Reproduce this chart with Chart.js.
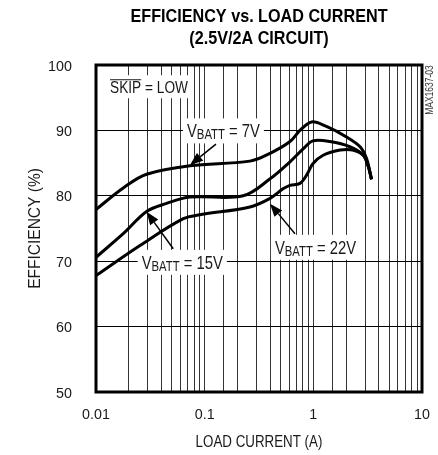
<!DOCTYPE html>
<html>
<head>
<meta charset="utf-8">
<script src="https://cdn.jsdelivr.net/npm/chart.js@4.4.1/dist/chart.umd.min.js"></script>
<style>
  html, body { margin: 0; padding: 0; background: #fff; }
  #wrap { width: 438px; height: 455px; }
</style>
</head>
<body>
<div id="wrap"><canvas id="chart" width="438" height="455"></canvas></div>
<script>
const FONT = '"Liberation Sans", Arial, Helvetica, sans-serif';

// load current (A) / efficiency (%)
const current7V = [0.01, 0.0178, 0.0292, 0.0733, 0.261, 0.40, 0.61, 0.753, 0.964, 1.32, 2.02, 2.69, 3.09, 3.43];
const eff7V     = [77.9, 81.2, 83.3, 84.6, 85.3, 86.5, 88.3, 90.0, 91.3, 90.6, 89.0, 87.5, 85.7, 82.5];

const current15V = [0.01, 0.0178, 0.0292, 0.044, 0.0733, 0.226, 0.40, 0.61, 0.81, 0.99, 1.42, 2.17, 2.88, 3.2, 3.43];
const eff15V     = [70.6, 74.2, 77.6, 78.8, 79.8, 80.0, 82.6, 85.2, 87.2, 88.4, 88.3, 87.5, 86.2, 84.5, 82.5];

const current22V = [0.01, 0.0254, 0.0636, 0.0906, 0.261, 0.40, 0.53, 0.61, 0.753, 0.87, 0.99, 1.23, 1.77, 2.3, 2.88, 3.2, 3.43];
const eff22V     = [67.8, 72.4, 76.5, 77.1, 78.3, 79.6, 81.1, 81.6, 81.9, 83.2, 84.9, 86.2, 87.0, 87.0, 86.2, 84.5, 82.6];

const xTickLabels = ['0.01', '0.1', '1', '10'];
const yTicks = [50, 60, 70, 80, 90, 100];

const titleLines = ['EFFICIENCY vs. LOAD CURRENT', '(2.5V/2A CIRCUIT)'];
const xTitle = 'LOAD CURRENT (A)';
const yTitle = 'EFFICIENCY (%)';

// curve labels: V + subscript + rest, left x and centre y in data units
const curveLabels = [
  { main: 'V', sub: 'BATT', rest: ' = 7V',  x: 0.0687, y: 90.0 },
  { main: 'V', sub: 'BATT', rest: ' = 15V', x: 0.0263, y: 69.9 },
  { main: 'V', sub: 'BATT', rest: ' = 22V', x: 0.443,  y: 72.2 }
];
// arrows: tail -> head (data units)
const arrows = [
  { x0: 0.127,  y0: 87.9, x1: 0.0733, y1: 84.7 },
  { x0: 0.0514, y0: 71.9, x1: 0.0292, y1: 77.55 },
  { x0: 0.678,  y0: 74.2, x1: 0.399,  y1: 78.8 }
];
const skipLabel = { x: 0.01346, y: 96.6 };

function curve(xs, ys) {
  return {
    data: xs.map((x, i) => ({ x: x, y: ys[i] })),
    borderColor: '#000',
    borderWidth: 3,
    pointRadius: 0,
    tension: 0.35,
    fill: false
  };
}

// the reference uses a narrow Helvetica, so squeeze Liberation Sans sideways
function narrow(ctx, text, x, y, size, k, opts) {
  opts = opts || {};
  ctx.save();
  ctx.translate(x, y);
  if (opts.rotate) ctx.rotate(opts.rotate);
  ctx.scale(k, 1);
  ctx.font = (opts.bold ? 'bold ' : '') + size + 'px ' + FONT;
  ctx.textAlign = opts.align || 'left';
  ctx.textBaseline = 'alphabetic';
  ctx.fillStyle = opts.color || '#1a1a1a';
  ctx.fillText(text, 0, 0);
  ctx.restore();
}
function narrowWidth(ctx, text, size, k) {
  ctx.save();
  ctx.font = size + 'px ' + FONT;
  const w = ctx.measureText(text).width * k;
  ctx.restore();
  return w;
}

const annotate = {
  id: 'annotate',
  afterDatasetsDraw(chart) {
    const ctx = chart.ctx;
    const xs = chart.scales.x;
    const ys = chart.scales.y;
    const area = chart.chartArea;
    const midX = (area.left + area.right) / 2;

    // SKIP = LOW box
    let px = xs.getPixelForValue(skipLabel.x);
    let py = ys.getPixelForValue(skipLabel.y);
    const kS = 0.84;
    const skipW = narrowWidth(ctx, 'SKIP', 16.3, kS);
    const fullW = narrowWidth(ctx, 'SKIP = LOW', 16.3, kS);
    ctx.fillStyle = '#fff';
    ctx.fillRect(px - 4, py - 12, fullW + 8, 23);
    narrow(ctx, 'SKIP = LOW', px, py + 6, 16.3, kS);
    ctx.strokeStyle = '#1a1a1a';
    ctx.lineWidth = 1;
    ctx.beginPath();
    ctx.moveTo(px, py - 7.5);
    ctx.lineTo(px + skipW, py - 7.5);
    ctx.stroke();

    // V_BATT labels
    const kL = 0.78, big = 19, small = 14.5;
    curveLabels.forEach(l => {
      const x = xs.getPixelForValue(l.x);
      const y = ys.getPixelForValue(l.y);
      const w1 = narrowWidth(ctx, l.main, big, kL);
      const w2 = narrowWidth(ctx, l.sub, small, kL);
      const w3 = narrowWidth(ctx, l.rest, big, kL);
      ctx.fillStyle = '#fff';
      ctx.fillRect(x - 4, y - 12, w1 + w2 + w3 + 8, 25);
      narrow(ctx, l.main, x, y + 7, big, kL);
      narrow(ctx, l.sub, x + w1, y + 9, small, kL);
      narrow(ctx, l.rest, x + w1 + w2, y + 7, big, kL);
    });

    // arrows
    arrows.forEach(a => {
      const x0 = xs.getPixelForValue(a.x0), y0 = ys.getPixelForValue(a.y0);
      const x1 = xs.getPixelForValue(a.x1), y1 = ys.getPixelForValue(a.y1);
      const ang = Math.atan2(y1 - y0, x1 - x0);
      const hl = 13, hw = 5;
      const bx = x1 - hl * Math.cos(ang), by = y1 - hl * Math.sin(ang);
      ctx.strokeStyle = '#000';
      ctx.lineWidth = 1.5;
      ctx.beginPath();
      ctx.moveTo(x0, y0);
      ctx.lineTo(bx, by);
      ctx.stroke();
      ctx.fillStyle = '#000';
      ctx.beginPath();
      ctx.moveTo(x1, y1);
      ctx.lineTo(bx + hw * Math.sin(ang), by - hw * Math.cos(ang));
      ctx.lineTo(bx - hw * Math.sin(ang), by + hw * Math.cos(ang));
      ctx.closePath();
      ctx.fill();
    });

    // frame
    ctx.save();
    ctx.strokeStyle = '#000';
    ctx.lineWidth = 3;
    ctx.strokeRect(area.left, area.top, area.right - area.left, area.bottom - area.top);
    ctx.restore();

    // titles
    narrow(ctx, titleLines[0], midX, 21.7, 18.6, 0.87, { bold: true, align: 'center', color: '#000' });
    narrow(ctx, titleLines[1], midX, 44.3, 18.6, 0.87, { bold: true, align: 'center', color: '#000' });
    narrow(ctx, xTitle, midX, 447, 16.3, 0.82, { align: 'center' });
    narrow(ctx, yTitle, 40, (area.top + area.bottom) / 2, 16, 0.97, { align: 'center', rotate: -Math.PI / 2 });

    // tick labels
    yTicks.forEach(v => {
      narrow(ctx, String(v), area.left - 24, ys.getPixelForValue(v) + 5.5, 15.4, 0.93, { align: 'right' });
    });
    xTickLabels.forEach(t => {
      narrow(ctx, t, xs.getPixelForValue(Number(t)), area.bottom + 27, 15.4, 0.93, { align: 'center' });
    });

    // part number
    narrow(ctx, 'MAX1637-03', 433, 90, 10, 0.85, { align: 'center', rotate: -Math.PI / 2, color: '#333' });
  }
};

new Chart(document.getElementById('chart'), {
  type: 'line',
  data: {
    datasets: [
      curve(current7V, eff7V),
      curve(current15V, eff15V),
      curve(current22V, eff22V)
    ]
  },
  options: {
    responsive: false,
    animation: false,
    devicePixelRatio: 1,
    layout: { padding: { left: 0, right: 16, top: 65, bottom: 0 } },
    plugins: {
      legend: { display: false },
      tooltip: { enabled: false },
      title: { display: false }
    },
    scales: {
      x: {
        type: 'logarithmic',
        min: 0.01,
        max: 10,
        afterFit: s => { s.height = 63; },
        border: { display: false },
        grid: { color: '#333', lineWidth: 1, drawTicks: false },
        ticks: { display: false, autoSkip: false }
      },
      y: {
        min: 50,
        max: 100,
        afterFit: s => { s.width = 96; },
        afterBuildTicks: s => { s.ticks = yTicks.map(v => ({ value: v })); },
        border: { display: false },
        grid: { color: '#000', lineWidth: 1, drawTicks: false },
        ticks: { display: false }
      }
    }
  },
  plugins: [annotate]
});
</script>
</body>
</html>
